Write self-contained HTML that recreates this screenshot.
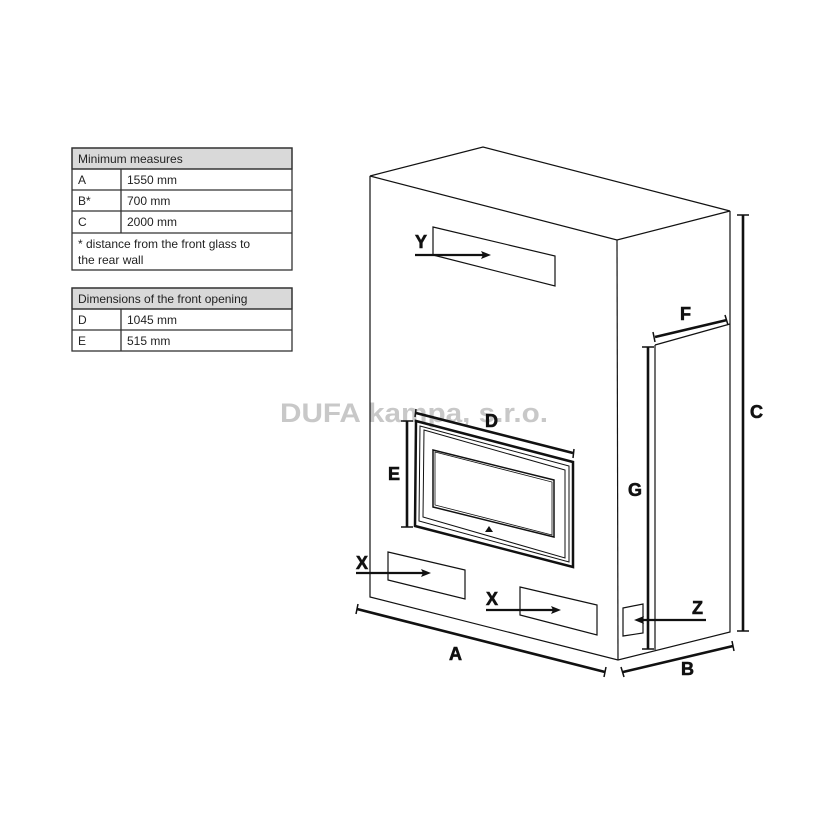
<!DOCTYPE html>
<html><head><meta charset="utf-8"><style>
html,body{margin:0;padding:0;background:#fff}
svg{display:block}
text{font-family:"Liberation Sans",Arial,sans-serif}
.t{font-size:12px;fill:#222}
.L{font-size:18px;font-weight:bold;fill:#111;stroke:#111;stroke-width:0.6}
</style></head><body>
<svg width="830" height="830" viewBox="0 0 830 830" xmlns="http://www.w3.org/2000/svg">
<g stroke="#333" stroke-width="1.3" fill="none">
<rect x="72" y="148" width="220" height="21" fill="#d9d9d9"/>
<rect x="72" y="148" width="220" height="122"/>
<line x1="72" y1="169" x2="292" y2="169"/><line x1="72" y1="190" x2="292" y2="190"/>
<line x1="72" y1="211" x2="292" y2="211"/><line x1="72" y1="233" x2="292" y2="233"/>
<line x1="121" y1="169" x2="121" y2="233"/>
<rect x="72" y="288" width="220" height="21" fill="#d9d9d9"/>
<rect x="72" y="288" width="220" height="63"/>
<line x1="72" y1="309" x2="292" y2="309"/><line x1="72" y1="330" x2="292" y2="330"/>
<line x1="121" y1="309" x2="121" y2="351"/>
</g>
<text class="t" x="78" y="163">Minimum measures</text>
<text class="t" x="78" y="184">A</text><text class="t" x="127" y="184">1550 mm</text>
<text class="t" x="78" y="205">B*</text><text class="t" x="127" y="205">700 mm</text>
<text class="t" x="78" y="226">C</text><text class="t" x="127" y="226">2000 mm</text>
<text class="t" x="78" y="248">* distance from the front glass to</text>
<text class="t" x="78" y="264">the rear wall</text>
<text class="t" x="78" y="303">Dimensions of the front opening</text>
<text class="t" x="78" y="324">D</text><text class="t" x="127" y="324">1045 mm</text>
<text class="t" x="78" y="345">E</text><text class="t" x="127" y="345">515 mm</text>

<text x="280" y="422" font-size="27" font-weight="bold" fill="#c8c8c8" textLength="268" lengthAdjust="spacingAndGlyphs" font-family="Liberation Sans,Arial,sans-serif">DUFA kampa, s.r.o.</text>

<g stroke="#111" stroke-width="1.2" fill="none" stroke-linejoin="miter">
<polygon points="370,176 483,147 730,211 617,240"/>
<polyline points="370,176 370,597 618,660 730,632 730,211"/>
<line x1="617" y1="240" x2="618" y2="660"/>
<polyline points="655,345 730,324"/>
<polyline points="655,345 655,650"/>
<polygon points="433,227 555,256 555,286 433,255"/>
<polygon points="388,552 465,570 465,599 388,580"/>
<polygon points="520,587 597,605 597,635 520,615"/>
<polygon points="623,608 643,604 643,633 623,636"/>
<polygon points="416,421 573,462 573,567 415,526" stroke-width="2.5"/>
<polygon points="420,426 569,466 569,562 419,521" stroke-width="1"/>
<polygon points="424,430 565,470 565,558 423,517" stroke-width="1"/>
<polygon points="433,450 554,480 554,537 433,507" stroke-width="1.5"/>
<polygon points="435,452 552,482 552,535 435,505" stroke-width="0.8"/>
</g>
<path d="M489,526 l4,6 l-8,0 z" fill="#111"/>

<g stroke="#111" stroke-width="2.6" fill="none">
<line x1="416" y1="413" x2="573" y2="453"/>
<line x1="407" y1="421" x2="407" y2="527"/>
<line x1="648" y1="347" x2="648" y2="649"/>
<line x1="743" y1="215" x2="743" y2="631"/>
<line x1="655" y1="337" x2="727" y2="320"/>
<line x1="357" y1="609" x2="605" y2="672"/>
<line x1="623" y1="672" x2="733" y2="646"/>
</g>
<g stroke="#111" stroke-width="1.5">
<line x1="401" y1="421" x2="413" y2="421"/><line x1="401" y1="527" x2="413" y2="527"/>
<line x1="642" y1="347" x2="654" y2="347"/><line x1="642" y1="649" x2="654" y2="649"/>
<line x1="737" y1="215" x2="749" y2="215"/><line x1="737" y1="631" x2="749" y2="631"/>
<line x1="416" y1="409" x2="415" y2="417"/><line x1="574" y1="449" x2="573" y2="458"/>
<line x1="653" y1="332" x2="655" y2="342"/><line x1="725" y1="315" x2="728" y2="325"/>
<line x1="358" y1="604" x2="356" y2="614"/><line x1="606" y1="667" x2="604" y2="677"/>
<line x1="621" y1="667" x2="624" y2="677"/><line x1="732" y1="641" x2="734" y2="651"/>
</g>

<g stroke="#111" stroke-width="2.2">
<line x1="415" y1="255" x2="484" y2="255"/>
<line x1="356" y1="573" x2="424" y2="573"/>
<line x1="486" y1="610" x2="554" y2="610"/>
<line x1="706" y1="620" x2="641" y2="620"/>
</g>
<g fill="#111">
<path d="M491,255 l-10,-4 l2,4 l-2,4 z"/>
<path d="M431,573 l-10,-4 l2,4 l-2,4 z"/>
<path d="M561,610 l-10,-4 l2,4 l-2,4 z"/>
<path d="M634,620 l10,-4 l-2,4 l2,4 z"/>
</g>

<text class="L" x="415" y="248">Y</text>
<text class="L" x="356" y="569">X</text>
<text class="L" x="486" y="605">X</text>
<text class="L" x="692" y="614">Z</text>
<text class="L" x="449" y="660">A</text>
<text class="L" x="681" y="675">B</text>
<text class="L" x="750" y="418">C</text>
<text class="L" x="485" y="427">D</text>
<text class="L" x="388" y="480">E</text>
<text class="L" x="680" y="320">F</text>
<text class="L" x="628" y="496">G</text>
</svg>
</body></html>
